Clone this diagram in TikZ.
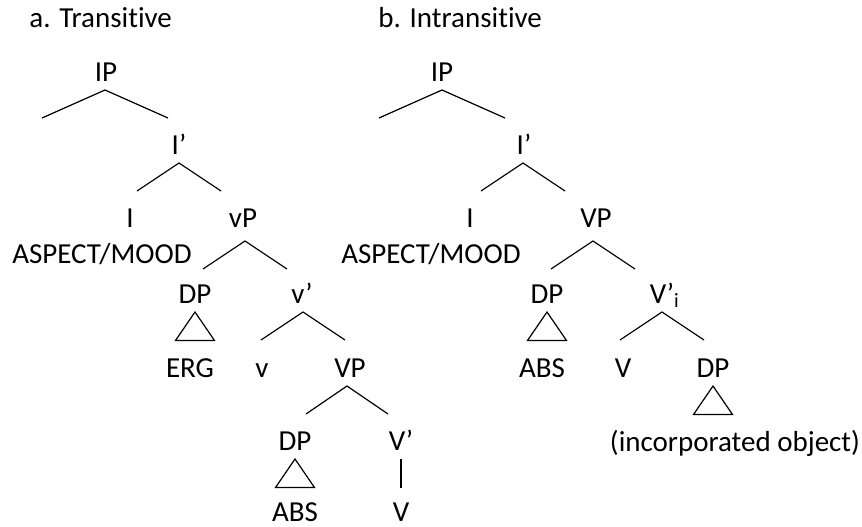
\documentclass[tikz,border=0pt]{standalone}
\usepackage{fontspec}
\setmainfont[Ligatures=NoCommon]{Carlito}
\usetikzlibrary{positioning, calc}

% roof over two daughters: [x shift]{node}{half width}{drop below base}
\newcommand{\branchroof}[4][0]{%
  \draw[branch] ($(#2.base)+(#1-#3,#4+28)$) -- ($(#2.base)+(#1,#4)$) -- ($(#2.base)+(#1+#3,#4+28)$);}
% triangle under a phrase
\newcommand{\dptri}[1]{%
  \draw[branch] ($(#1.base)+(0,9)$) -- ++(19.5,28.5) -- ++(-39,0) -- cycle;}

\begin{document}
\begin{tikzpicture}[
            x=0.5pt, y=-0.5pt,
            font=\fontsize{14.5pt}{17pt}\selectfont,
            lbl/.style={anchor=base, inner sep=0pt},
            branch/.style={line width=0.6pt, line join=miter}
        ]
            \useasboundingbox (0,0) rectangle (862,526);

            % a. transitive
            \node[lbl, anchor=base west] (ttl1) at (29,27) {a. Transitive};
            \node[lbl] (ip1) at (106,81) {IP};
            \node[lbl] (ibar1) at ([shift={(73,73)}]ip1.base) {I’};
            \node[lbl] (i1) at ([shift={(-49,73)}]ibar1.base) {I};
            \node[lbl] (vp1) at ([shift={(64,73)}]ibar1.base) {vP};
            \node[lbl] (asp1) at ([shift={(-28,36)}]i1.base) {ASPECT/MOOD};
            \node[lbl] (dp1) at ([shift={(-48,76)}]vp1.base) {DP};
            \node[lbl] (vbar1) at ([shift={(59,76)}]vp1.base) {v’};
            \node[lbl] (erg) at ([shift={(-5,74)}]dp1.base) {ERG};
            \node[lbl] (v1) at ([shift={(-40,74)}]vbar1.base) {v};
            \node[lbl] (vp2) at ([shift={(48,74)}]vbar1.base) {VP};
            \node[lbl] (dp2) at ([shift={(-55,73)}]vp2.base) {DP};
            \node[lbl] (vbar2) at ([shift={(51,73)}]vp2.base) {V’};
            \node[lbl] (abs1) at ([shift={(0,71)}]dp2.base) {ABS};
            \node[lbl] (vv1) at ([shift={(0,71)}]vbar2.base) {V};

            \branchroof[-1]{ip1}{63}{9}
            \branchroof{ibar1}{42}{9}
            \branchroof[2]{vp1}{42}{14}
            \branchroof[1]{vbar1}{42}{9}
            \branchroof[-3]{vp2}{41}{9}
            \dptri{dp1}
            \dptri{dp2}
            \draw[branch, shorten <=4.5pt, shorten >=7pt] (vbar2.south) -- (vv1.north);

            % b. intransitive
            \node[lbl, anchor=base west] (ttl2) at (378,27) {b. Intransitive};
            \node[lbl] (ip2) at (442,81) {IP};
            \node[lbl] (ibar2) at ([shift={(82,73)}]ip2.base) {I’};
            \node[lbl] (i2) at ([shift={(-54,73)}]ibar2.base) {I};
            \node[lbl] (vp3) at ([shift={(72,73)}]ibar2.base) {VP};
            \node[lbl] (asp2) at ([shift={(-39,36)}]i2.base) {ASPECT/MOOD};
            \node[lbl] (dp3) at ([shift={(-49,76)}]vp3.base) {DP};
            \node[lbl] (vbar3) at ([shift={(66,76)}]vp3.base) {V’\rlap{\textsubscript{i}}};
            \node[lbl] (abs2) at ([shift={(-5,74)}]dp3.base) {ABS};
            \node[lbl] (vv2) at ([shift={(-39,74)}]vbar3.base) {V};
            \node[lbl] (dp4) at ([shift={(51,74)}]vbar3.base) {DP};
            \node[lbl] (inc) at ([shift={(22,74)}]dp4.base) {(incorporated object)};

            \branchroof{ip2}{63}{9}
            \branchroof[-1]{ibar2}{42}{9}
            \branchroof[-3]{vp3}{42}{14}
            \branchroof{vbar3}{42}{9}
            \dptri{dp3}
            \dptri{dp4}
        \end{tikzpicture}
\end{document}
